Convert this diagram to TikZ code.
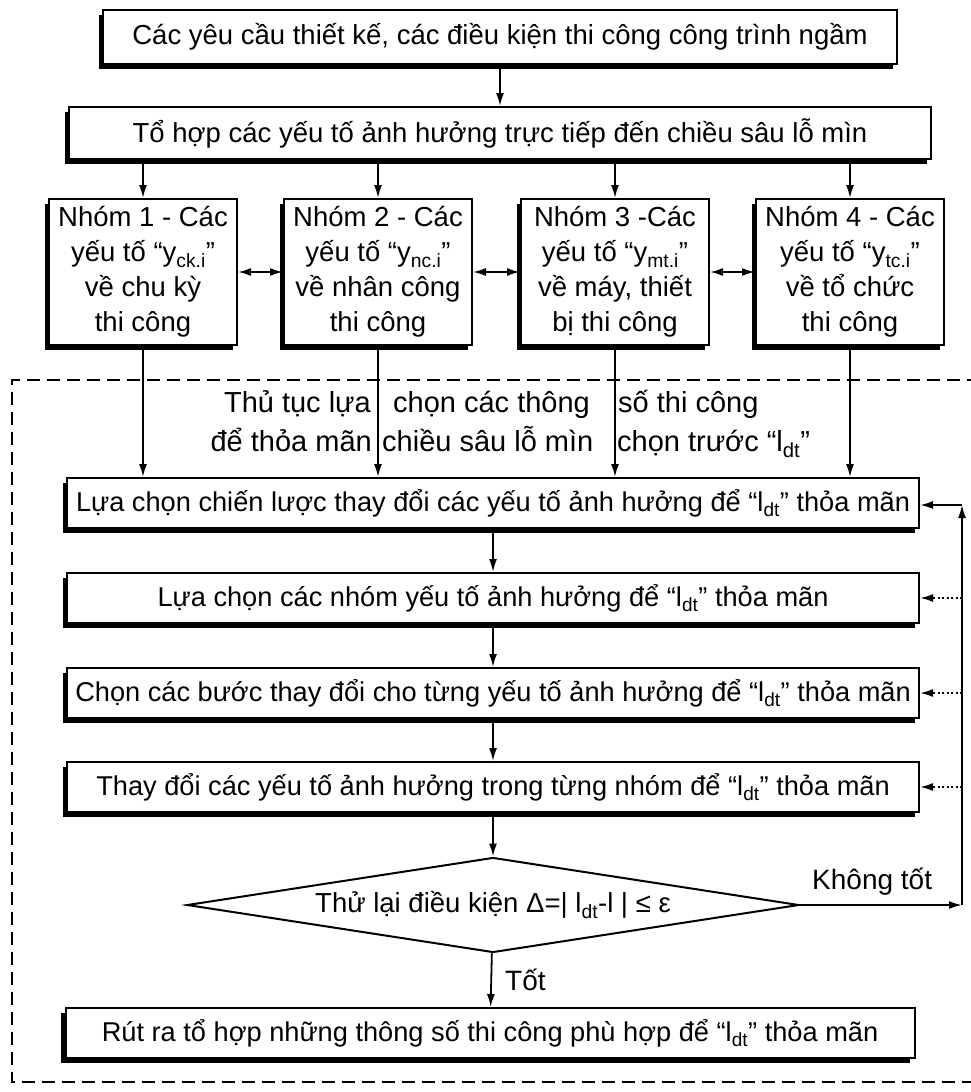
\documentclass[tikz,border=0pt]{standalone}
\usepackage{fontspec}
\setmainfont{Liberation Sans}
\usetikzlibrary{arrows.meta}
\usetikzlibrary{shapes.geometric}
\usetikzlibrary{shadows}

\newcommand{\ldt}{l\textsubscript{dt}}
\newcommand{\yg}[1]{y\textsubscript{#1}}

\begin{document}
\begin{tikzpicture}[x=1pt,y=-1pt,
  box/.style={draw,line width=2pt,fill=white,inner sep=0pt,align=center,
    font=\fontsize{27.5}{35}\selectfont,
    drop shadow={shadow xshift=-4.5pt,shadow yshift=-4.5pt,opacity=1,fill=black}},
  grp/.style={box,minimum width=188pt,minimum height=146pt},
  stepbox/.style={box,minimum width=852pt,minimum height=50pt,font=\fontsize{27.2}{35}\selectfont},
  cond/.style={diamond,draw,line width=2pt,fill=white,inner sep=0pt,aspect=6.4,
    minimum width=612pt,minimum height=95pt,font=\fontsize{27.5}{35}\selectfont},
  lbl/.style={inner sep=0pt,align=center,font=\fontsize{28}{39}\selectfont},
  proctext/.style={inner sep=0pt,font=\fontsize{29}{39}\selectfont},
  arr/.style={line width=1.8pt,-{Latex[length=13pt,width=8pt]}},
  dbl/.style={line width=1.8pt,{Latex[length=13pt,width=8pt]}-{Latex[length=13pt,width=8pt]}},
  back/.style={line width=2pt,dash pattern=on 2pt off 2.5pt,-{Latex[length=13pt,width=8pt]}}]

\useasboundingbox (0,0) rectangle (970,1092);

\draw[line width=2.4pt,dash pattern=on 13pt off 7pt] (980,380) -- (12,380) -- (12,1082) -- (980,1082);

\node[box,minimum width=794pt,minimum height=54pt] (req) at (500,37) {Các yêu cầu thiết kế, các điều kiện thi công công trình ngầm};
\node[box,minimum width=862pt,minimum height=52pt] (comb) at (500,133) {Tổ hợp các yếu tố ảnh hưởng trực tiếp đến chiều sâu lỗ mìn};

\node[grp] (g1) at (143,272) {Nhóm 1 - Các\\yếu tố “\yg{ck.i}”\\về chu kỳ\\thi công};
\node[grp] (g2) at (378,272) {Nhóm 2 - Các\\yếu tố “\yg{nc.i}”\\về nhân công\\thi công};
\node[grp] (g3) at (615,272) {Nhóm 3 -Các\\yếu tố “\yg{mt.i}”\\về máy, thiết\\bị thi công};
\node[grp] (g4) at (850,272) {Nhóm 4 - Các\\yếu tố “\yg{tc.i}”\\về tổ chức\\thi công};

\node[proctext,anchor=base east] (procA) at (371,412) {Thủ tục lựa};
\node[proctext,anchor=base west] (procB) at (393,412) {chọn các thông};
\node[proctext,anchor=base west] (procC) at (618,412) {số thi công};
\node[proctext,anchor=base east] (procD) at (372,451) {để thỏa mãn};
\node[proctext,anchor=base west] (procE) at (382,451) {chiều sâu lỗ mìn};
\node[proctext,anchor=base west] (procF) at (617,451) {chọn trước “\ldt”};

\node[stepbox] (strat) at (493,503) {Lựa chọn chiến lược thay đổi các yếu tố ảnh hưởng để “\ldt” thỏa mãn};
\node[stepbox] (grpsel) at (493,598) {Lựa chọn các nhóm yếu tố ảnh hưởng để “\ldt” thỏa mãn};
\node[stepbox] (steps) at (493,693) {Chọn các bước thay đổi cho từng yếu tố ảnh hưởng để “\ldt” thỏa mãn};
\node[stepbox] (change) at (493,787) {Thay đổi các yếu tố ảnh hưởng trong từng nhóm để “\ldt” thỏa mãn};

\node[cond] (check) at (493,905) {Thử lại điều kiện Δ=| \ldt-l | ≤ ε};
\node[stepbox,minimum width=849pt] (result) at (490,1033) {Rút ra tổ hợp những thông số thi công phù hợp để “\ldt” thỏa mãn};

\node[lbl,anchor=west] (bad) at (812,882) {Không tốt};
\node[lbl,anchor=west] (good) at (505,980) {Tốt};

\coordinate (low) at (962,905);
\coordinate (up) at (962,505);

\draw[arr] (req) -- (comb);
\foreach \g in {g1,g2,g3,g4}{
  \draw[arr] (comb.south -| \g) -- (\g.north);
  \draw[arr] (\g.south) -- (\g.south |- strat.north);
}
\draw[dbl] (g1) -- (g2);
\draw[dbl] (g2) -- (g3);
\draw[dbl] (g3) -- (g4);

\draw[arr] (strat) -- (grpsel);
\draw[arr] (grpsel) -- (steps);
\draw[arr] (steps) -- (change);
\draw[arr] (change) -- (check);
\draw[arr] (check) -- (result);

\draw[arr] (check.east) -- (low);
\draw[arr] (low) -- (up);
\draw[arr] (up) -- (up -| strat.east);
\foreach \b in {grpsel,steps,change}
  \draw[back] (up |- \b.east) -- (\b.east);

\end{tikzpicture}
\end{document}
